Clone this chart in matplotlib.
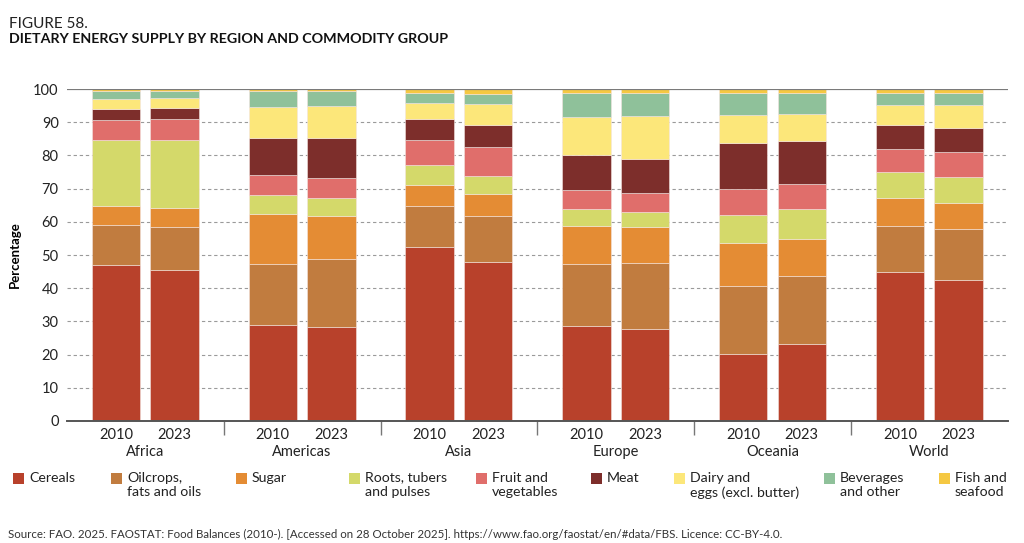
import numpy as np
import matplotlib
matplotlib.use("Agg")
from matplotlib import pyplot as plt
from matplotlib.patches import Rectangle

plt.rcParams['font.family'] = ['Lato', 'DejaVu Sans']

regions = ["Africa", "Americas", "Asia", "Europe", "Oceania", "World"]
years = ["2010", "2023"]

commodities = [
    "Cereals",
    "Oilcrops,\nfats and oils",
    "Sugar",
    "Roots, tubers\nand pulses",
    "Fruit and\nvegetables",
    "Meat",
    "Dairy and\neggs (excl. butter)",
    "Beverages\nand other",
    "Fish and\nseafood",
]
colors = ["#B8412B", "#C17C3F", "#E48C34", "#D4D96A", "#E06E6B",
          "#7D2E2B", "#FCE77A", "#8FC19A", "#F5C842"]

# Shares (%) per bar: Africa 2010, Africa 2023, Americas 2010, ... World 2023
cereals    = [46.9, 45.5, 28.9, 28.2, 52.5, 47.9, 28.6, 27.7, 20.1, 23.3, 45.0, 42.4]
oilcrops   = [12.0, 12.9, 18.4, 20.5, 12.2, 13.9, 18.7, 19.8, 20.5, 20.4, 13.8, 15.4]
sugar      = [ 5.9,  5.9, 15.0, 13.1,  6.5,  6.6, 11.5, 10.9, 13.1, 11.0,  8.5,  7.9]
roots      = [19.8, 20.3,  5.9,  5.3,  5.8,  5.5,  5.1,  4.5,  8.3,  9.1,  7.6,  7.7]
fruit_veg  = [ 6.0,  6.5,  6.0,  6.0,  7.7,  8.6,  5.8,  5.7,  7.8,  7.5,  7.0,  7.6]
meat       = [ 3.3,  3.2, 11.0, 12.1,  6.3,  6.8, 10.4, 10.2, 13.8, 13.0,  7.3,  7.4]
dairy_eggs = [ 3.0,  3.1,  9.5,  9.7,  4.9,  6.2, 11.6, 13.1,  8.5,  8.3,  6.1,  6.9]
beverages  = [ 2.4,  2.0,  4.7,  4.5,  2.8,  2.9,  7.2,  7.0,  6.6,  6.3,  3.5,  3.5]
fish       = [ 0.7,  0.6,  0.6,  0.6,  1.3,  1.6,  1.1,  1.1,  1.3,  1.1,  1.2,  1.2]

series = [cereals, oilcrops, sugar, roots, fruit_veg, meat, dairy_eggs, beverages, fish]

fig = plt.figure(figsize=(10.24, 5.43), dpi=100)
ax = fig.add_axes([0.0654, 0.2247, 0.9186, 0.6113])

offset = 0.187
width = 0.309
xpos = []
for g in range(len(regions)):
    xpos += [g - offset, g + offset]
xpos = np.array(xpos)

bottom = np.zeros(len(xpos))
for vals, clr in zip(series, colors):
    vals = np.array(vals)
    ax.bar(xpos, vals, width, bottom=bottom, color=clr,
           edgecolor="#F4E4E0", linewidth=0.4, zorder=3)
    bottom += vals

ax.set_xlim(-0.5, len(regions) - 0.5)
ax.set_ylim(0, 100)
ax.set_yticks(np.arange(0, 101, 10))
for y in range(10, 100, 10):
    ax.axhline(y, color="#9A9A9A", lw=0.8, ls=(0, (3, 2.5)), zorder=1)
ax.axhline(100, color="#7A7A7A", lw=1.6, zorder=4)

for s in ["top", "right", "left"]:
    ax.spines[s].set_visible(False)
ax.spines["bottom"].set_color("#555555")
ax.spines["bottom"].set_linewidth(1.4)
ax.spines["bottom"].set_zorder(5)

ax.set_xticks(xpos)
ax.set_xticklabels(years * len(regions))
ax.set_xticks(np.arange(0.5, len(regions) - 1, 1.0), minor=True)
ax.tick_params(axis="x", which="major", length=0, pad=5, labelsize=10.5, colors="#222222")
ax.tick_params(axis="x", which="minor", length=10, width=1.0, color="#777777")
ax.tick_params(axis="y", length=0, pad=6, labelsize=10.5, colors="#222222")

for g, name in enumerate(regions):
    ax.text(g, -0.092, name, transform=ax.get_xaxis_transform(),
            ha="center", va="center", fontsize=10.5, color="#222222")

ax.set_ylabel("Percentage", fontweight="bold", fontsize=9.5, labelpad=9)

fig.text(0.009, 0.955, "FIGURE 58.", fontsize=11, ha="left", va="center", color="#222222")
fig.text(0.009, 0.929, "DIETARY ENERGY SUPPLY BY REGION AND COMMODITY GROUP",
         fontsize=10.3, fontweight="bold", ha="left", va="center", color="#111111")

# legend, laid out by hand
leg_x = [13, 111, 236, 349, 476, 591, 674, 824, 939]
W, H = 1024.0, 543.0
for lx, name, clr in zip(leg_x, commodities, colors):
    fig.add_artist(Rectangle((lx / W, 1 - 483.5 / H), 10.5 / W, 10.5 / H,
                             transform=fig.transFigure, color=clr, lw=0))
    fig.text((lx + 16) / W, 1 - 471.5 / H, name, fontsize=10.2, ha="left", va="top",
             linespacing=1.25, color="#222222")

fig.text(0.008, 1 - 534 / H,
         "Source: FAO. 2025. FAOSTAT: Food Balances (2010-). [Accessed on 28 October 2025]. "
         "https://www.fao.org/faostat/en/#data/FBS. Licence: CC-BY-4.0.",
         fontsize=8.3, ha="left", va="center", color="#333333")

fig.savefig("out.png", dpi=100)
